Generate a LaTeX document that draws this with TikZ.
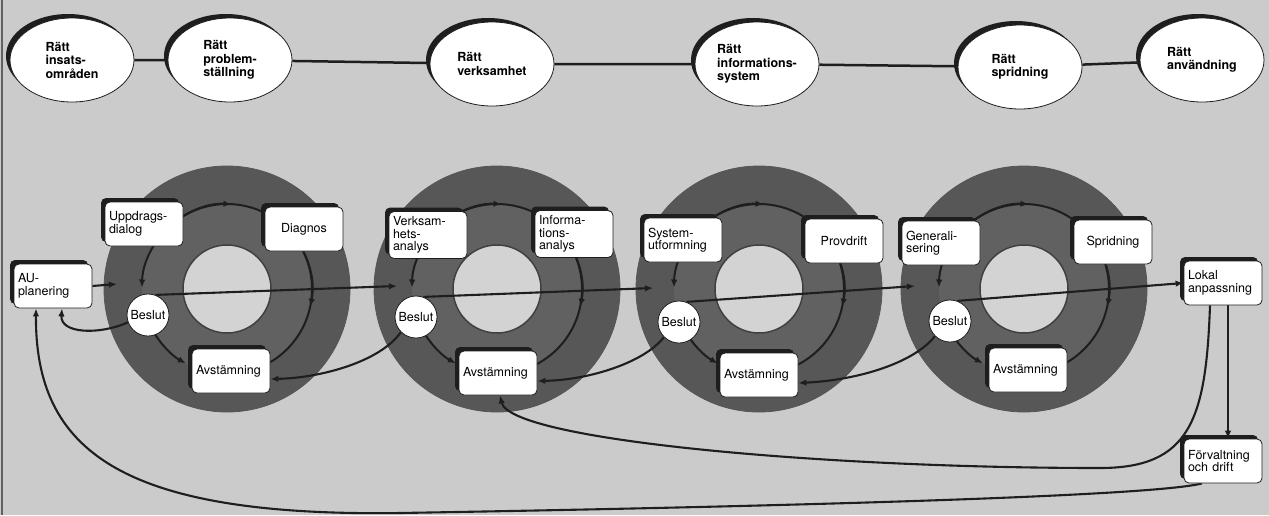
\documentclass[tikz,border=0pt]{standalone}
\usepackage{fontspec}
\setmainfont{TeX Gyre Heros}
\usetikzlibrary{arrows.meta,shapes.geometric,shadows}

\definecolor{paper}{HTML}{CBCBCB}
\definecolor{ringdark}{HTML}{575757}
\definecolor{ringmid}{HTML}{616161}
\definecolor{holefill}{HTML}{D3D3D3}
\definecolor{ink}{HTML}{1E1E1E}

\pgfdeclarelayer{rings}
\pgfdeclarelayer{wires}
\pgfsetlayers{rings,wires,main}

\tikzset{
  goal/.style={ellipse, draw=ink, line width=0.8pt, fill=white, inner sep=0pt,
    minimum width=124pt, minimum height=84pt, align=left,
    font=\fontsize{12.5}{13.5}\selectfont\bfseries,
    drop shadow={shadow xshift=-4pt, shadow yshift=4pt, opacity=1, fill=ink}},
  stepbox/.style={rectangle, rounded corners=5pt, draw=ink, line width=0.8pt, fill=white,
    text width=70pt, inner xsep=4pt, inner ysep=2pt, minimum height=44pt, align=left,
    font=\fontsize{12.5}{12.5}\selectfont,
    drop shadow={shadow xshift=-4pt, shadow yshift=4pt, opacity=1, fill=ink}},
  centred/.style={align=center},
  decision/.style={circle, draw=ink, line width=0.8pt, fill=white, minimum size=42pt,
    inner sep=0pt, font=\fontsize{12.5}{12.5}\selectfont},
  wire/.style={draw=ink, line width=2.1pt},
  thinwire/.style={draw=ink, line width=1.4pt},
  arrowed/.style={-{Latex[length=8pt,width=6.5pt]}},
  cycleline/.style={draw=ink, line width=2pt},
}

\begin{document}
\begin{tikzpicture}[x=1pt,y=-1pt]
\useasboundingbox (0,0) rectangle (1269,515);

% ---------- background and the four rings ----------
\begin{pgfonlayer}{rings}
  \fill[paper] (0,0) rectangle (1269,515);
  \draw[ink!70, line width=1.2pt] (2,0) -- (2,515);
  \foreach \cx/\n in {227/1,497/2,759/3,1024/4} {
    \coordinate (ring\n) at (\cx,289);
    \filldraw[fill=ringdark, draw=ink!75, line width=0.8pt] (ring\n) circle (123);
    \fill[ringmid] (ring\n) circle (85);
    \filldraw[fill=holefill, draw=ink!85, line width=1.5pt] (ring\n) circle (44);
  }
\end{pgfonlayer}

% ---------- goals along the top ----------
\node[goal] (E1) at (72,60)   {Rätt\\insats-\\områden};
\node[goal] (E2) at (230,60)  {Rätt\\problem-\\ställning};
\node[goal] (E3) at (492,64)  {Rätt\\verksamhet};
\node[goal] (E4) at (757,64)  {Rätt\\informations-\\system};
\node[goal] (E5) at (1020,67) {Rätt\\spridning};
\node[goal] (E6) at (1202,60) {Rätt\\användning};

% ---------- work steps ----------
\node[stepbox] (AU) at (53,286)  {AU-\\planering};

\node[stepbox] (U1) at (144,224)  {Uppdrags-\\dialog};
\node[stepbox,centred] (D1) at (304,229) {Diagnos};
\node[stepbox] (A1) at (231,371)  {Avstämning};
\node[decision] (B1) at (148,315) {Beslut};

\node[stepbox,minimum height=47pt] (U2) at (428,235) {Verksam-\\hets-\\analys};
\node[stepbox,minimum height=47pt] (D2) at (574,234) {Informa-\\tions-\\analys};
\node[stepbox] (A2) at (498,373)  {Avstämning};
\node[decision] (B2) at (416,317) {Beslut};

\node[stepbox] (U3) at (683,240)  {System-\\utformning};
\node[stepbox,centred] (D3) at (844,241) {Provdrift};
\node[stepbox] (A3) at (759,375)  {Avstämning};
\node[decision] (B3) at (679,322) {Beslut};

\node[stepbox] (U4) at (941,243)  {Generali-\\sering};
\node[stepbox,centred] (D4) at (1113,242) {Spridning};
\node[stepbox] (A4) at (1028,370) {Avstämning};
\node[decision] (B4) at (950,321) {Beslut};

\node[stepbox] (L) at (1223,283) {Lokal\\anpassning};
\node[stepbox] (F) at (1223,461) {Förvaltning\\och drift};

% entry points of the main flow into each ring
\coordinate (in1) at (117,284);
\coordinate (in2) at (397,286);
\coordinate (in3) at (653,288);
\coordinate (in4) at (915,286);

% ---------- connectors ----------
\begin{pgfonlayer}{wires}
  % chain of goals
  \draw[wire, line width=2.5pt] (E1) -- (E2) -- (E3) -- (E4) -- (E5) -- (E6);

  % the cycle inside each ring
  \foreach \n in {1,...,4} {
    \draw[cycleline] ([shift={(225:85)}]ring\n) arc[start angle=225, end angle=318, radius=85];
    \draw[cycleline,arrowed] ([shift={(225:85)}]ring\n) arc[start angle=225, end angle=273, radius=85];
    \draw[cycleline] ([shift={(318:85)}]ring\n) arc[start angle=318, end angle=442, radius=85];
    \draw[cycleline,arrowed] ([shift={(318:85)}]ring\n) arc[start angle=318, end angle=372, radius=85];
    \draw[cycleline,arrowed] ([shift={(228:85)}]ring\n) arc[start angle=228, end angle=181, radius=85];
    \draw[cycleline,arrowed] ([shift={(150:85)}]ring\n) arc[start angle=150, end angle=119, radius=85];
  }

  % main flow from ring to ring
  \draw[wire,arrowed] (AU.east) -- (in1);
  \draw[wire,arrowed] (B1.70) -- (in2);
  \draw[wire,arrowed] (B2.70) -- (in3);
  \draw[wire,arrowed] (B3.70) -- (in4);
  \draw[wire,arrowed] (B4.70) -- (L.west);

  % decisions sent back
  \draw[wire,arrowed] (B1.200) .. controls (100,335) and (60,334) .. ([xshift=9pt]AU.south);
  \draw[wire,arrowed] (B2.225) .. controls (380,362) and (320,378) .. ([yshift=-8pt]A1.east);
  \draw[wire,arrowed] (B3.225) .. controls (645,362) and (590,380) .. ([yshift=-8pt]A2.east);
  \draw[wire,arrowed] (B4.225) .. controls (915,362) and (860,380) .. ([yshift=-8pt]A3.east);

  % local adaptation and operation
  \draw[thinwire,arrowed] ([xshift=5pt]L.south) -- ([xshift=5pt]F.north);
  \draw[wire,arrowed] ([xshift=-13pt]L.south)
      .. controls (1206,420) and (1190,468) .. (1100,468)
      .. controls (820,468) and (510,440) .. ([xshift=2pt]A2.south);
  \draw[wire,arrowed] ([xshift=-21pt]F.south)
      .. controls (1150,497) and (750,507) .. (400,513)
      .. controls (120,517) and (35,450) .. ([xshift=-17pt]AU.south);
\end{pgfonlayer}
\end{tikzpicture}
\end{document}
